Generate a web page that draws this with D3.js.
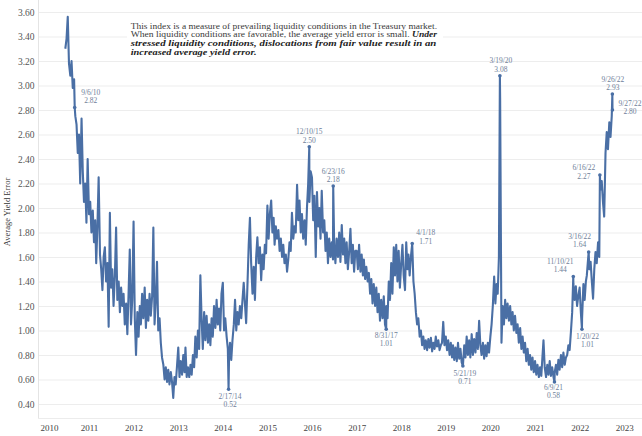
<!DOCTYPE html>
<html><head><meta charset="utf-8">
<script src="https://cdn.jsdelivr.net/npm/d3@7"></script>
<style>body{margin:0;background:#fff}svg{display:block}</style>
</head><body>
<svg id="c" width="642" height="436"></svg>
<script>
// ---- DATA (values sampled on the 1st, 11th and 21st of each month) ----
const years = [2010,2011,2012,2013,2014,2015,2016,2017,2018,2019,2020,2021,2022];
const firstSlot = {2010: 17}; // 2010 series begins on June 21
const v2010 = [3.30,3.38,3.56,3.18,3.08,3.20,2.98,3.05,2.75,2.68,2.45,2.60,2.20,2.73,2.30,2.05,2.20,1.88,2.40];
const v2011 = [1.95,2.05,1.80,1.98,1.72,1.90,1.55,1.85,2.25,1.62,1.50,1.33,1.60,1.68,1.40,1.55,1.03,1.96,1.35,1.50,1.20,1.45,1.84,1.25,1.40,1.15,1.35,1.20,1.30,1.05,1.22,0.97,1.30,1.66,1.05,1.25];
const v2012 = [1.89,1.10,0.80,1.15,0.95,1.20,1.05,1.30,1.10,1.35,1.02,1.25,1.08,1.30,1.12,1.28,1.84,1.05,1.25,1.56,1.00,1.10,0.90,0.78,0.72,0.60,0.70,0.58,0.68,0.56,0.66,0.58,0.45,0.62,0.56,0.70];
const v2013 = [0.86,0.62,0.75,0.64,0.80,0.66,0.86,0.62,0.70,0.62,0.72,0.64,0.80,0.70,0.95,0.78,1.00,0.85,1.45,1.10,0.85,1.15,0.92,1.12,0.90,1.05,0.88,1.10,0.95,1.20,1.02,1.25,1.05,1.18,1.00,1.30];
const v2014 = [1.39,1.00,1.10,0.95,0.85,0.78,0.90,0.76,0.92,1.05,1.25,1.00,1.15,1.05,1.20,1.10,1.25,1.39,1.22,1.06,1.35,1.70,1.92,1.55,1.30,1.52,1.25,1.60,1.76,1.55,1.68,1.41,1.62,1.50,1.70,1.63];
const v2015 = [2.02,1.75,1.95,2.06,1.80,1.92,1.70,1.85,1.75,1.82,1.65,1.75,1.60,1.70,1.55,1.62,1.48,1.58,1.72,1.65,1.96,1.75,1.85,1.80,2.19,1.90,2.06,1.80,1.95,1.75,1.90,1.70,2.00,2.20,2.05,2.30];
const v2016 = [2.25,1.90,2.10,1.60,2.13,1.85,2.00,1.75,2.14,1.80,1.90,1.65,1.80,1.55,1.75,1.60,1.72,1.58,1.70,1.55,1.75,1.60,1.80,1.56,1.86,1.62,1.75,1.55,1.72,1.50,1.65,1.83,1.55,1.70,1.48,1.65];
const v2017 = [1.65,1.50,1.70,1.48,1.62,1.45,1.58,1.42,1.52,1.40,1.47,1.30,1.42,1.22,1.38,1.20,1.35,1.15,1.30,1.08,1.25,1.10,1.28,1.05,1.20,1.10,1.40,1.25,1.55,1.30,1.68,1.45,1.70,1.40,1.65,1.35];
const v2018 = [1.55,1.70,1.45,1.33,1.72,1.50,1.62,1.45,1.60,1.71,1.40,1.30,1.15,1.05,1.10,0.95,1.00,0.88,0.95,0.85,0.92,0.84,0.93,0.86,0.94,0.83,0.90,0.85,0.95,0.87,0.92,0.84,0.88,0.90,1.07,0.88];
const v2019 = [0.95,0.84,0.92,0.80,0.90,0.78,0.88,0.76,0.86,0.75,0.90,0.77,0.85,0.74,0.71,0.88,0.78,0.95,0.80,0.92,0.78,0.97,0.80,0.93,0.82,0.98,0.85,1.08,0.88,0.80,0.90,0.77,0.88,0.79,0.90,0.82];
const v2020 = [0.95,1.05,1.20,1.44,1.22,1.38,1.30,1.60,2.90,0.90,1.20,1.05,1.25,1.10,1.22,1.08,1.20,1.05,1.15,1.00,1.12,0.98,1.05,0.90,1.02,0.85,0.95,0.82,0.90,0.75,0.85,0.72,0.80,0.68,0.78,0.66];
const v2021 = [0.75,0.64,0.72,0.62,0.70,0.63,0.76,0.92,0.70,0.62,0.72,0.64,0.75,0.63,0.70,0.62,0.66,0.72,0.64,0.76,0.68,0.80,0.70,0.82,0.72,0.78,0.80,0.88,0.84,0.98,1.15,1.38,1.25,1.36,1.20,1.28];
const v2022 = [1.35,1.15,1.10,1.38,1.25,1.40,1.45,1.58,1.50,1.56,1.40,1.26,1.50,1.64,1.55,1.72,1.60,2.15,2.22,2.05,1.93,2.45,2.62,2.48,2.70,2.58,2.75];
const seriesByYear = [v2010,v2011,v2012,v2013,v2014,v2015,v2016,v2017,v2018,v2019,v2020,v2021,v2022];

// labelled points: date, value, label text
const annDates  = ["2010-09-06","2014-02-17","2015-12-10","2016-06-23","2017-08-31","2018-04-01","2019-05-21","2020-03-19","2021-06-09","2021-11-10","2022-01-20","2022-03-16","2022-06-16","2022-09-26","2022-09-27"];
const annValues = [2.82,0.52,2.50,2.18,1.01,1.71,0.71,3.08,0.58,1.44,1.01,1.64,2.27,2.93,2.80];
const annLabels = ["9/6/10","2/17/14","12/10/15","6/23/16","8/31/17","4/1/18","5/21/19","3/19/20","6/9/21","11/10/21","1/20/22","3/16/22","6/16/22","9/26/22","9/27/22"];

const yTicks = [0.40,0.60,0.80,1.00,1.20,1.40,1.60,1.80,2.00,2.20,2.40,2.60,2.80,3.00,3.20,3.40,3.60];
const xTickYears = [2010,2011,2012,2013,2014,2015,2016,2017,2018,2019,2020,2021,2022,2023];
const yTitle = "Average Yield Error";
const noteLines = [
  [["This index is a measure of prevailing liquidity conditions in the Treasury market.", false]],
  [["When liquidity conditions are favorable, the average yield error is small. ", false], ["Under", true]],
  [["stressed liquidity conditions, dislocations from fair value result in an", true]],
  [["increased average yield error.", true]]
];

// ---- STYLE / LAYOUT ----
const FONT = "'Liberation Serif','DejaVu Serif',serif";
const LINE = "#4a6fa5";
const ANN = "#6f8099";
const plot = {left:38, right:642, top:0, bottom:418};
// label offsets [dx, dy of first line] relative to the point
const annOffsets = [[16,-15.5],[1.5,7],[0,-15],[0,-15],[0,6],[13.5,-11],[2,7],[1,-15],[-1,5],[-13,-15.5],[5.5,7],[-9,-16],[-16,-7.3],[0.5,-15],[17.5,-6.7]];

const parse = d3.timeParse("%Y-%m-%d");
const byTime = new Map();
years.forEach((yr,i)=>{
  const s0 = firstSlot[yr] || 0;
  seriesByYear[i].forEach((v,j)=>{
    const k = s0 + j;
    const dt = new Date(yr, Math.floor(k/3), [1,11,21][k%3]);
    byTime.set(+dt, {date:dt, value:v});
  });
});
const ann = annDates.map((d,i)=>({date:parse(d), value:annValues[i], label:annLabels[i], off:annOffsets[i]}));
ann.forEach(a=>byTime.set(+a.date, {date:a.date, value:a.value}));
const data = Array.from(byTime.values()).sort((a,b)=>a.date-b.date);

const svg = d3.select("#c");
const x = d3.scaleTime().domain([new Date(2011,0,1), new Date(2023,0,1)]).range([89, 624.2]);
const y = d3.scaleLinear().domain([0.4,3.6]).range([404,12]);

svg.append("defs").append("clipPath").attr("id","clip").append("rect")
  .attr("x",plot.left).attr("y",plot.top).attr("width",plot.right-plot.left).attr("height",plot.bottom-plot.top);

// gridlines
svg.append("g").attr("transform",`translate(${plot.left},0)`)
  .call(d3.axisLeft(y).tickValues(yTicks).tickSize(-(plot.right-plot.left)).tickFormat(""))
  .call(g=>g.select(".domain").remove())
  .call(g=>g.selectAll("line").attr("stroke","#ededed").attr("stroke-width",1));
// frame lines
svg.append("line").attr("x1",plot.left+0.5).attr("x2",plot.left+0.5).attr("y1",plot.top).attr("y2",plot.bottom).attr("stroke","#e4e4e4");
svg.append("line").attr("x1",plot.left).attr("x2",plot.right).attr("y1",plot.bottom+0.5).attr("y2",plot.bottom+0.5).attr("stroke","#ececec");

// y axis labels
svg.append("g").attr("transform","translate(34.5,0)")
  .call(d3.axisLeft(y).tickValues(yTicks).tickSize(0).tickPadding(0).tickFormat(d3.format(".2f")))
  .call(g=>g.select(".domain").remove())
  .call(g=>g.selectAll("text").attr("font-family",FONT).attr("font-size",9.5).attr("fill","#555"));

// x axis labels
svg.append("g").attr("transform","translate(0,424.5)")
  .call(d3.axisBottom(x).tickValues(xTickYears.map(yr=>new Date(yr,0,1))).tickSize(0).tickPadding(0).tickFormat(d3.timeFormat("%Y")))
  .call(g=>g.select(".domain").remove())
  .call(g=>g.selectAll("text").attr("font-family",FONT).attr("font-size",9).attr("fill","#444"))
  .call(g=>g.selectAll(".tick").filter(d=>d<x.invert(plot.left+14)).select("text")
        .attr("text-anchor","start").attr("x",function(d){return plot.left+2-x(d);}));

// y title
svg.append("text").attr("transform","translate(10,212) rotate(-90)")
  .attr("text-anchor","middle").attr("font-family",FONT).attr("font-size",8.5).attr("fill","#333").text(yTitle);

// note box
svg.append("rect").attr("x",127).attr("y",17).attr("width",316).attr("height",42).attr("fill","#fff");
const noteWidths = [307,307,306,126];
noteLines.forEach((parts,i)=>{
  const t = svg.append("text").attr("font-family",FONT).attr("font-size",9).attr("fill","#3a3a3a");
  parts.forEach(([s,b])=>{
    const sp = t.append("tspan").text(s);
    if(b) sp.attr("font-weight","bold").attr("font-style","italic").attr("fill","#222");
  });
  const w = t.node().getComputedTextLength();
  t.attr("transform",`translate(130.7,${28.6+8.85*i}) scale(${noteWidths[i]/w},1)`);
});

// line
svg.append("path").datum(data).attr("clip-path","url(#clip)")
  .attr("fill","none").attr("stroke",LINE).attr("stroke-width",2.1).attr("stroke-linejoin","round")
  .attr("d", d3.line().x(d=>x(d.date)).y(d=>y(d.value)));

// annotations
const ag = svg.append("g");
ann.forEach(a=>{
  const px = x(a.date), py = y(a.value);
  ag.append("circle").attr("cx",px).attr("cy",py).attr("r",1.8).attr("fill",LINE);
  const t = ag.append("text").attr("font-family",FONT).attr("font-size",7.5).attr("fill",ANN).attr("text-anchor","middle");
  t.append("tspan").attr("x",px+a.off[0]).attr("y",py+a.off[1]+2.6).text(a.label);
  t.append("tspan").attr("x",px+a.off[0]).attr("y",py+a.off[1]+11.1).text(d3.format(".2f")(a.value));
});
</script>
</body></html>
